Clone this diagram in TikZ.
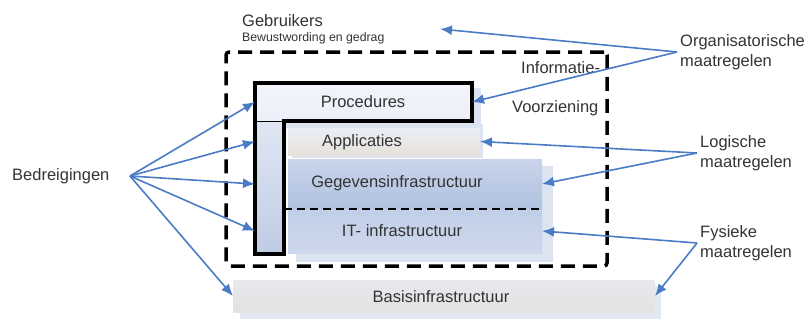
\documentclass[tikz,border=0pt]{standalone}
\usepackage{fontspec}
\setmainfont{Liberation Sans}
\usetikzlibrary{arrows.meta,calc}

\definecolor{arrowblue}{HTML}{4A7CC6}
\definecolor{txt}{HTML}{333333}
\definecolor{haze}{HTML}{DCE4F1}

\begin{document}
\begin{tikzpicture}[x=1pt,y=-1pt,
  lbl/.style={font=\fontsize{16.5}{20}\selectfont, text=txt, inner sep=0pt},
  small/.style={font=\fontsize{12.3}{14}\selectfont, text=txt, inner sep=0pt},
  side/.style={lbl, align=left, inner xsep=3pt, inner ysep=0pt, anchor=west},
  panel/.style={draw=none, inner sep=0pt, outer sep=0pt, anchor=north west},
  threat/.style={draw=arrowblue, line width=1.6pt, -{Latex[length=12pt,width=10pt]}},
]
\useasboundingbox (0,0) rectangle (810,322);

% soft shadows behind the layers
\fill[haze] (262,88) rectangle (481,128);
\fill[haze] (292,124) rectangle (483,158);
\fill[haze] (296,166) rectangle (553,262);
\fill[haze!80] (240,286) rectangle (661,319);

% layers
\node[panel, minimum width=217pt, minimum height=38pt,
      top color=white!60!haze, bottom color=haze!95!blue!40!white] (proc) at (255,83) {};
\node[panel, minimum width=192pt, minimum height=27pt,
      top color=haze!60!white, bottom color={rgb,255:red,230;green,226;blue,217}] (appl) at (288,128) {};
\node[panel, minimum width=254pt, minimum height=50pt,
      top color={rgb,255:red,200;green,212;blue,234}, bottom color={rgb,255:red,176;green,194;blue,224}] (gegev) at (288,159) {};
\node[panel, minimum width=254pt, minimum height=44pt,
      top color={rgb,255:red,192;green,206;blue,231}, bottom color={rgb,255:red,206;green,216;blue,236}] (it) at (288,209) {};
\node[panel, minimum width=29pt, minimum height=133pt,
      top color={rgb,255:red,224;green,231;blue,243}, bottom color={rgb,255:red,190;green,204;blue,228}] (lbar) at (255,121) {};
\node[panel, minimum width=422pt, minimum height=32pt,
      top color={rgb,255:red,232;green,233;blue,237}, bottom color={rgb,255:red,226;green,226;blue,226}] (basis) at (233,280) {};

% layer captions
\node[lbl, anchor=base] (tproc) at (363,107) {Procedures};
\node[lbl, anchor=base] (tappl) at (362,146) {Applicaties};
\node[lbl, anchor=base] (tgegev) at (397,187) {Gegevensinfrastructuur};
\node[lbl, anchor=base] (tit) at (402,236) {IT- infrastructuur};
\node[lbl, anchor=base] (tbasis) at (441,302) {Basisinfrastructuur};

% information provision boundary
\node[panel, draw=black, line width=3.5pt, dash pattern=on 14pt off 8pt,
      rounded corners=3pt, minimum width=381pt, minimum height=214pt] (iv) at (226,52) {};
\node[lbl, anchor=base west] (tinfo) at (521,73) {Informatie-};
\node[lbl, anchor=base west] (tvoorz) at (512,112) {Voorziening};

% outline of procedures and its vertical leg
\draw[line width=3.5pt, line join=miter]
  (proc.north west) -- (proc.north east) -- (proc.south east) -- (lbar.north east)
  -- (lbar.south east) -- (lbar.south west) -- cycle;
\draw[line width=0.8pt] (lbar.north west) -- (lbar.north east);
\draw[line width=2pt, dash pattern=on 8pt off 5pt] (lbar.east |- it.north) -- (it.north east);

% users
\node[lbl, anchor=base west] (users) at (242,26) {Gebruikers};
\node[small, anchor=base west] (aware) at (242,41) {Bewustwording en gedrag};
\coordinate (usertip) at (440,29);

% threats
\node[lbl, anchor=base west] (bedr) at (12,180) {Bedreigingen};
\coordinate (bsrc) at (130,176);
\draw[threat] (bsrc) -- (proc.west);
\draw[threat] (bsrc) -- (lbar.west |- appl.center);
\draw[threat] (bsrc) -- (lbar.west |- gegev.center);
\draw[threat] (bsrc) -- (lbar.west |- it.center);
\draw[threat] (bsrc) -- (basis.west);

% measures
\node[side] (org) at (677,52) {Organisatorische\\maatregelen};
\node[side] (log) at (697,153) {Logische\\maatregelen};
\node[side] (fys) at (697,243) {Fysieke\\maatregelen};

\draw[threat] (org.west) -- (usertip);
\draw[threat] (org.west) -- (proc.east);
\draw[threat] (log.west) -- (appl.east);
\draw[threat] (log.west) -- (gegev.east);
\draw[threat] (fys.west) -- (it.east);
\draw[threat] (fys.west) -- (basis.east);
\end{tikzpicture}
\end{document}
